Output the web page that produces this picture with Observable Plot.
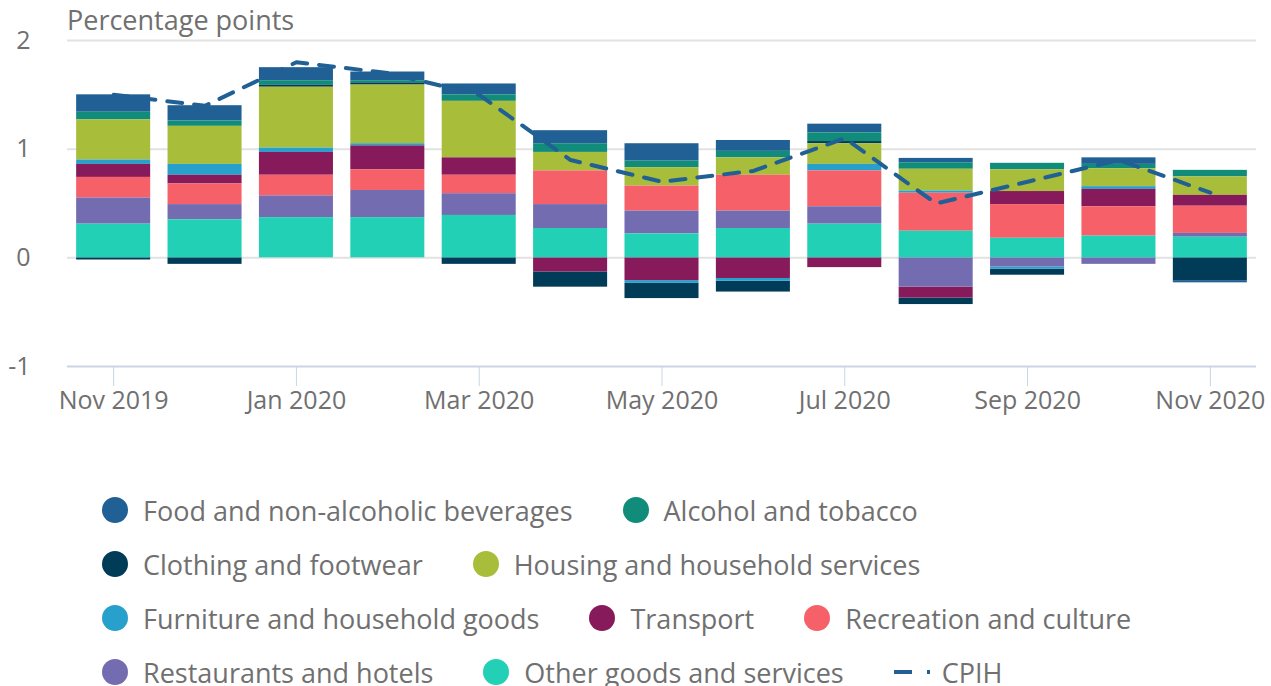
<!DOCTYPE html>
<html>
<head>
<meta charset="utf-8">
<script src="https://cdn.jsdelivr.net/npm/d3@7"></script>
<script src="https://cdn.jsdelivr.net/npm/@observablehq/plot@0.6"></script>
<style>
  html, body { margin: 0; padding: 0; background: #fff; }
  body { width: 1271px; height: 686px; overflow: hidden; position: relative; font-family: "Open Sans", sans-serif; }
  #ylabel { position: absolute; left: 67px; top: 2px; font-size: 27px; line-height: 36px; color: #707070; }
  #legend { display: flex; flex-wrap: wrap; column-gap: 50px; row-gap: 18px; padding-left: 102px; margin-top: 52px; width: 1150px; }
  .item { display: flex; align-items: center; height: 36px; font-size: 27px; color: #707070; white-space: nowrap; }
  .dot { width: 26px; height: 26px; border-radius: 50%; margin-right: 15px; flex: none; }
  .sym { margin-right: 12px; }
</style>
</head>
<body>
<div id="chart"></div>
<div id="ylabel">Percentage points</div>
<div id="legend"></div>
<script>
const months = ["Nov 2019","Dec 2019","Jan 2020","Feb 2020","Mar 2020","Apr 2020","May 2020","Jun 2020","Jul 2020","Aug 2020","Sep 2020","Oct 2020","Nov 2020"];
const tickLabels = ["Nov 2019","Jan 2020","Mar 2020","May 2020","Jul 2020","Sep 2020","Nov 2020"];
const yTicks = [-1, 0, 1, 2];
const categories = ["Food and non-alcoholic beverages","Alcohol and tobacco","Clothing and footwear","Housing and household services","Furniture and household goods","Transport","Recreation and culture","Restaurants and hotels","Other goods and services"];
const colors = ["#206095","#118c7b","#003c57","#a8bd3a","#27a0cc","#871a5b","#f66068","#746cb1","#22d0b6"];

const food        = [0.16, 0.14, 0.12, 0.08, 0.10, 0.12, 0.16, 0.10, 0.08, 0.04, 0.00, 0.06, -0.02];
const alcohol     = [0.07, 0.05, 0.04, 0.02, 0.06, 0.08, 0.06, 0.06, 0.08, 0.06, 0.06, 0.04, 0.06];
const clothing    = [-0.02, -0.06, 0.02, 0.02, -0.06, -0.14, -0.14, -0.10, 0.02, -0.06, -0.055, 0.00, -0.21];
const housing     = [0.37, 0.35, 0.56, 0.54, 0.52, 0.17, 0.17, 0.16, 0.19, 0.20, 0.20, 0.165, 0.17];
const furniture   = [0.04, 0.10, 0.04, 0.02, 0.00, 0.00, -0.025, -0.025, 0.06, 0.02, -0.02, 0.025, 0.00];
const transport   = [0.12, 0.08, 0.21, 0.22, 0.16, -0.13, -0.21, -0.19, -0.09, -0.10, 0.12, 0.16, 0.10];
const recreation  = [0.19, 0.19, 0.19, 0.19, 0.17, 0.31, 0.23, 0.33, 0.33, 0.35, 0.31, 0.27, 0.25];
const restaurants = [0.24, 0.14, 0.20, 0.25, 0.20, 0.22, 0.21, 0.16, 0.16, -0.27, -0.085, -0.06, 0.035];
const other       = [0.31, 0.35, 0.37, 0.37, 0.39, 0.27, 0.22, 0.27, 0.31, 0.245, 0.18, 0.20, 0.19];
const cpih        = [1.5, 1.4, 1.8, 1.7, 1.5, 0.9, 0.7, 0.8, 1.1, 0.5, 0.7, 0.9, 0.6];

const series = [food, alcohol, clothing, housing, furniture, transport, recreation, restaurants, other];
const rows = [];
categories.forEach((c, i) => months.forEach((m, j) => rows.push({month: m, category: c, value: series[i][j]})));
const cpihRows = months.map((m, j) => ({month: m, value: cpih[j]}));

const chart = Plot.plot({
  width: 1271, height: 440,
  marginLeft: 67, marginRight: 15, marginTop: 40, marginBottom: 74,
  style: {fontFamily: "'Open Sans', sans-serif", fontSize: "25px", color: "#707070", background: "white"},
  x: {type: "band", domain: months, paddingInner: 0.19, paddingOuter: 0.1, round: false, label: null},
  y: {domain: [-1, 2], label: null},
  color: {domain: categories, range: colors},
  marks: [
    Plot.gridY(yTicks.slice(1), {stroke: "#e2e2e2", strokeOpacity: 1, strokeWidth: 2}),
    Plot.ruleY(yTicks.slice(0, 1), {stroke: "#cad4e6", strokeWidth: 2}),
    Plot.axisY({ticks: yTicks, tickSize: 0, tickPadding: 37, tickFormat: d => String(d), label: null, fill: "#707070"}),
    Plot.axisX({ticks: tickLabels, tickSize: 20, tickPadding: 5, stroke: "#cad4e6", fill: "#707070", label: null}),
    Plot.barY(rows, {x: "month", y: "value", fill: "category", order: categories.slice().reverse()}),
    Plot.line(cpihRows, {x: "month", y: "value", stroke: "#206095", strokeWidth: 4, strokeDasharray: "15 12"})
  ]
});
document.getElementById("chart").appendChild(chart);

const legend = document.getElementById("legend");
categories.forEach((c, i) => {
  const it = document.createElement("div");
  it.className = "item";
  it.innerHTML = `<span class="dot" style="background:${colors[i]}"></span><span>${c}</span>`;
  legend.appendChild(it);
});
const li = document.createElement("div");
li.className = "item";
li.innerHTML = `<svg class="sym" width="36" height="10"><line x1="0" y1="5" x2="36" y2="5" stroke="#206095" stroke-width="4" stroke-dasharray="18 15"/></svg><span>CPIH</span>`;
legend.appendChild(li);
</script>
</body>
</html>
